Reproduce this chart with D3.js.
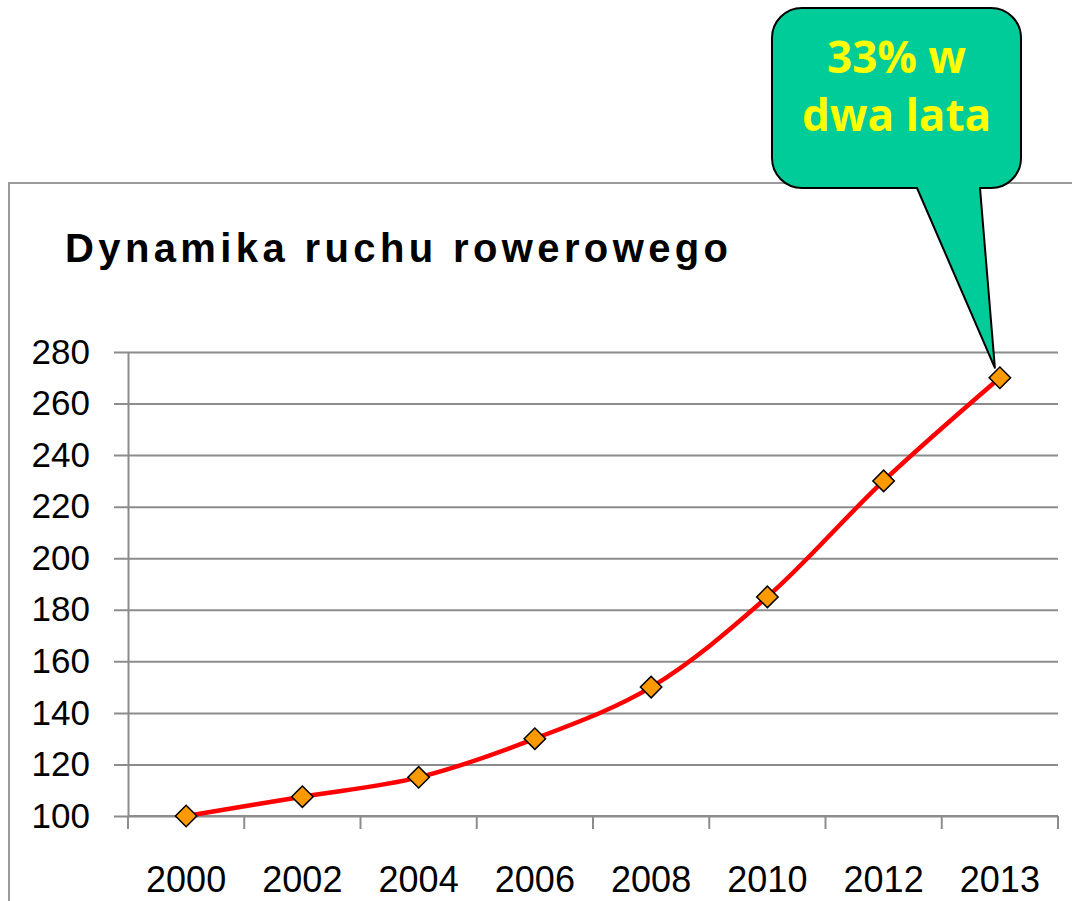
<!DOCTYPE html>
<html>
<head>
<meta charset="utf-8">
<script src="https://cdn.jsdelivr.net/npm/d3@7"></script>
<style>
  body { margin: 0; background: #fff; }
  svg { display: block; }
</style>
</head>
<body>
<div id="chart"></div>
<script>
const years = ['2000', '2002', '2004', '2006', '2008', '2010', '2012', '2013'];
const traffic = [100, 107.5, 115, 130, 150, 185, 230, 270];
const yTicks = [100, 120, 140, 160, 180, 200, 220, 240, 260, 280];
const calloutLines = ['33% w', 'dwa lata'];

const W = 1072, H = 901;
const svg = d3.select('#chart').append('svg')
  .attr('width', W)
  .attr('height', H);

// chart frame (runs off the right and bottom edge)
svg.append('rect')
  .attr('x', 9)
  .attr('y', 183)
  .attr('width', 1100)
  .attr('height', 800)
  .attr('fill', 'none')
  .attr('stroke', '#9a9a9a')
  .attr('stroke-width', 2);

svg.append('text')
  .attr('x', 65)
  .attr('y', 262)
  .attr('font-family', 'Liberation Sans, Arial, sans-serif')
  .attr('font-weight', 'bold')
  .attr('font-size', '40px')
  .attr('textLength', 663)
  .attr('lengthAdjust', 'spacing')
  .attr('fill', '#000')
  .text('Dynamika ruchu rowerowego');

const plotL = 128, plotR = 1058, plotT = 352, plotB = 816;

const xScale = d3.scaleBand()
  .domain(years)
  .range([plotL, plotR]);

const yScale = d3.scaleLinear()
  .domain([100, 280])
  .range([plotB, plotT]);

// horizontal gridlines + y labels
const yAxis = svg.append('g')
  .attr('transform', 'translate(' + plotL + ',0)')
  .call(d3.axisLeft(yScale)
    .tickValues(yTicks)
    .tickSizeInner(-(plotR - plotL))
    .tickSizeOuter(0)
    .tickPadding(38));
yAxis.select('.domain').attr('stroke', '#8c8c8c').attr('stroke-width', 2);
yAxis.selectAll('.tick line')
  .attr('x1', -14)
  .attr('stroke', '#8c8c8c')
  .attr('stroke-width', 2);
yAxis.selectAll('.tick text')
  .attr('font-family', 'Liberation Sans, Arial, sans-serif')
  .attr('font-size', '35px')
  .attr('fill', '#000');

// x axis with ticks between categories
const xAxis = svg.append('g')
  .attr('transform', 'translate(0,' + plotB + ')')
  .call(d3.axisBottom(xScale).tickSize(0).tickPadding(0));
xAxis.select('.domain').remove();
xAxis.selectAll('.tick text')
  .attr('font-family', 'Liberation Sans, Arial, sans-serif')
  .attr('font-size', '36px')
  .attr('fill', '#000')
  .attr('dy', null)
  .attr('y', 76);

const boundaries = years.map(d => xScale(d)).concat([xScale(years[years.length - 1]) + xScale.bandwidth()]);
svg.append('g').selectAll('line')
  .data(boundaries)
  .enter().append('line')
  .attr('x1', d => d)
  .attr('x2', d => d)
  .attr('y1', plotB)
  .attr('y2', plotB + 13)
  .attr('stroke', '#8c8c8c')
  .attr('stroke-width', 2);

svg.append('line')
  .attr('x1', plotL)
  .attr('x2', plotR)
  .attr('y1', plotB)
  .attr('y2', plotB)
  .attr('stroke', '#8c8c8c')
  .attr('stroke-width', 2);

const cx = d => xScale(d) + xScale.bandwidth() / 2;

const line = d3.line()
  .x((d, i) => cx(years[i]))
  .y(d => yScale(d))
  .curve(d3.curveCatmullRom.alpha(0.5));

svg.append('path')
  .datum(traffic)
  .attr('d', line)
  .attr('fill', 'none')
  .attr('stroke', '#ff0000')
  .attr('stroke-width', 4.5);

const diamond = d3.symbol().type(d3.symbolSquare).size(230);
svg.selectAll('.marker')
  .data(traffic)
  .enter().append('path')
  .attr('class', 'marker')
  .attr('transform', (d, i) => 'translate(' + cx(years[i]) + ',' + yScale(d) + ') rotate(45)')
  .attr('d', diamond)
  .attr('fill', '#ff9900')
  .attr('stroke', '#000')
  .attr('stroke-width', 1.5);

// callout bubble pointing at the last point
const bx0 = 772, bx1 = 1021, by0 = 8, by1 = 188, r = 30;
const tipX = cx(years[years.length - 1]) - 5;
const tipY = yScale(traffic[traffic.length - 1]) - 10;
const p = d3.path();
p.moveTo(bx0 + r, by0);
p.lineTo(bx1 - r, by0);
p.arcTo(bx1, by0, bx1, by0 + r, r);
p.lineTo(bx1, by1 - r);
p.arcTo(bx1, by1, bx1 - r, by1, r);
p.lineTo(980, by1);
p.lineTo(tipX, tipY);
p.lineTo(917, by1);
p.lineTo(bx0 + r, by1);
p.arcTo(bx0, by1, bx0, by1 - r, r);
p.lineTo(bx0, by0 + r);
p.arcTo(bx0, by0, bx0 + r, by0, r);
p.closePath();

svg.append('path')
  .attr('d', p.toString())
  .attr('fill', '#00cc99')
  .attr('stroke', '#000')
  .attr('stroke-width', 2)
  .attr('stroke-linejoin', 'round');

svg.append('g').selectAll('text')
  .data(calloutLines)
  .enter().append('text')
  .attr('x', (bx0 + bx1) / 2)
  .attr('y', (d, i) => 73 + i * 58)
  .attr('text-anchor', 'middle')
  .attr('font-family', 'Open Sans, sans-serif')
  .attr('font-weight', 'bold')
  .attr('font-size', '44px')
  .attr('fill', '#ffff00')
  .text(d => d);
</script>
</body>
</html>
